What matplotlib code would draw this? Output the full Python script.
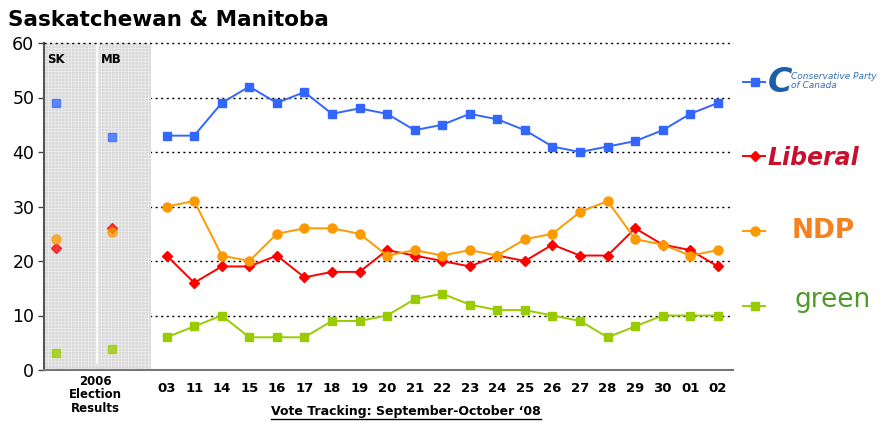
import matplotlib
matplotlib.use("Agg")
import matplotlib.pyplot as plt
from matplotlib.lines import Line2D

# tracking days (Sept 03 .. Oct 02)
days = ['03', '11', '14', '15', '16', '17', '18', '19', '20', '21', '22',
        '23', '24', '25', '26', '27', '28', '29', '30', '01', '02']

conservative = [43, 43, 49, 52, 49, 51, 47, 48, 47, 44, 45, 47, 46, 44, 41, 40, 41, 42, 44, 47, 49]
liberal      = [21, 16, 19, 19, 21, 17, 18, 18, 22, 21, 20, 19, 21, 20, 23, 21, 21, 26, 23, 22, 19]
ndp          = [30, 31, 21, 20, 25, 26, 26, 25, 21, 22, 21, 22, 21, 24, 25, 29, 31, 24, 23, 21, 22]
green        = [6, 8, 10, 6, 6, 6, 9, 9, 10, 13, 14, 12, 11, 11, 10, 9, 6, 8, 10, 10, 10]

# 2006 election results: SK, MB
provinces = ['SK', 'MB']
elec_conservative = [48.9, 42.8]
elec_liberal = [22.4, 26.0]
elec_ndp = [24.0, 25.4]
elec_green = [3.2, 3.9]

yticks = [0, 10, 20, 30, 40, 50, 60]

BLUE = '#3366ff'
RED = '#ff0000'
ORANGE = '#ff9900'
GREEN = '#99cc00'

series = [
    (conservative, elec_conservative, BLUE, 's', 6),
    (liberal, elec_liberal, RED, 'D', 5),
    (ndp, elec_ndp, ORANGE, 'o', 6.5),
    (green, elec_green, GREEN, 's', 6),
]

W, H = 884, 425
fig = plt.figure(figsize=(W / 100, H / 100), dpi=100)
ax = fig.add_axes([44 / W, 1 - 370 / H, (733 - 44) / W, (370 - 43) / H])

x = list(range(len(days)))
x_elec = [-4, -2]
ax.set_xlim(-4.45, 20.55)
ax.set_ylim(0, 60)

# grid (the shaded election block sits over it)
for yv in yticks[1:-1]:
    ax.axhline(yv, color='black', lw=1.0, ls=(0, (1.5, 2.5)), zorder=0)
ax.axhline(60, color='black', lw=1.0, ls=(0, (1.5, 2.5)), zorder=3, clip_on=False)

plt.rcParams['hatch.linewidth'] = 0.5
ax.axvspan(-4.45, -0.58, facecolor='#dadada', edgecolor='#eeeeee',
           hatch='+++++', lw=0, zorder=1)
ax.plot([-2.53, -2.53], [1.3, 60], color='white', lw=1.2, zorder=2)

for vals, elec, col, mk, ms in series:
    ax.plot(x, vals, color=col, lw=1.4, marker=mk, markersize=ms,
            markeredgecolor=col, zorder=4)
    ax.plot(x_elec, elec, ls='none', marker=mk, markersize=ms,
            color=col, alpha=0.75, zorder=4)

for xp, name in zip(x_elec, provinces):
    ax.text(xp, 57, name, ha='center', va='center', fontsize=8.5,
            fontweight='bold', zorder=5)

ax.set_yticks(yticks)
ax.set_xticks(x)
ax.set_xticklabels(days, fontweight='bold', fontsize=9.5)
ax.tick_params(axis='x', length=0, pad=9)
ax.tick_params(axis='y', length=4, width=1, color='#444444', labelsize=12.5, pad=3)
for s in ['top', 'right']:
    ax.spines[s].set_visible(False)
ax.spines['left'].set_color('#555555')
ax.spines['left'].set_linewidth(1.5)
ax.spines['bottom'].set_color('#777777')
ax.spines['bottom'].set_linewidth(1.5)

fig.text(8 / W, 1 - 20 / H, 'Saskatchewan & Manitoba', fontsize=15.5,
         fontweight='bold', va='center', ha='left')

fig.text(95 / W, 1 - 395 / H, '2006\nElection\nResults', fontsize=8.5,
         fontweight='bold', ha='center', va='center', linespacing=1.05)

vt = fig.text(406 / W, 1 - 412 / H, 'Vote Tracking: September-October \u201808',
              fontsize=9, fontweight='bold', ha='center', va='center')
fig.canvas.draw()
bb = vt.get_window_extent().transformed(fig.transFigure.inverted())
fig.add_artist(Line2D([bb.x0, bb.x1], [bb.y0 - 0.002, bb.y0 - 0.002],
                      transform=fig.transFigure, color='black', lw=1))

# legend with party names in place of the logos
legend_rows = [
    (BLUE, 's', 6, 82),
    (RED, 'D', 5, 156),
    (ORANGE, 'o', 6.5, 231),
    (GREEN, 's', 6, 306),
]
for col, mk, ms, yp in legend_rows:
    yf = 1 - yp / H
    fig.add_artist(Line2D([743 / W, 765 / W], [yf, yf], transform=fig.transFigure,
                          color=col, lw=1.4))
    fig.add_artist(Line2D([755 / W], [yf], transform=fig.transFigure, color=col,
                          marker=mk, markersize=ms, ls='none'))

fig.text(768 / W, 1 - 82 / H, 'C', fontsize=24, fontweight='bold', style='italic',
         color='#1b5fa8', va='center', ha='left')
fig.text(791 / W, 1 - 81 / H, 'Conservative Party\nof Canada', fontsize=6.5,
         style='italic', color='#3a6fb0', va='center', ha='left', linespacing=1.0)
fig.text(767 / W, 1 - 158 / H, 'Liberal', fontsize=17, fontweight='bold',
         style='italic', color='#c8102e', va='center', ha='left')
fig.text(792 / W, 1 - 231 / H, 'NDP', fontsize=19, fontweight='heavy',
         color='#f58220', va='center', ha='left')
fig.text(795 / W, 1 - 300 / H, 'green', fontsize=19, color='#4e9a2a',
         va='center', ha='left')

fig.savefig('out.png', dpi=100)
